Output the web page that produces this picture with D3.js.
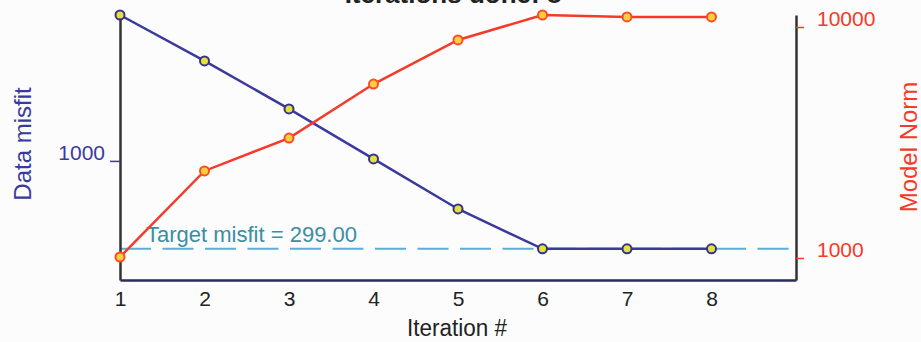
<!DOCTYPE html>
<html>
<head>
<meta charset="utf-8">
<script src="https://cdn.jsdelivr.net/npm/d3@7"></script>
<style>
  body { margin: 0; background: #fcfcfc; }
  svg { display: block; font-family: "Liberation Sans", Arial, sans-serif; }
</style>
</head>
<body>
<svg id="chart" width="921" height="342"></svg>
<script>
// values
const iterations = [1, 2, 3, 4, 5, 6, 7, 8];
const dataMisfit = [7410, 3945, 2042, 1028, 517, 299, 299, 299];
const modelNorm = [1010, 2381, 3304, 5664, 8790, 11270, 11050, 11050];
const targetMisfit = 299;
const xTicks = [1, 2, 3, 4, 5, 6, 7, 8];
const leftTicks = [1000];
const rightTicks = [1000, 10000];

const width = 921, height = 342;
const svg = d3.select("#chart");

const blue = "#3a3a9c", red = "#f53a28";

const x = d3.scaleLinear().domain([1, 9]).range([120, 796]);
const yL = d3.scaleLog().domain([195, d3.max(dataMisfit)]).range([280, 15]);
const yR = d3.scaleLog().domain([803, d3.max(modelNorm)]).range([280, 15]);

// title (cut off at the top in the original)
svg.append("text")
    .attr("x", 453).attr("y", 3)
    .attr("text-anchor", "middle")
    .attr("font-size", 26).attr("font-weight", "bold")
    .attr("fill", "#222")
    .text("Iterations done: 8");

// target misfit line
svg.append("line")
    .attr("x1", x(1)).attr("x2", x(9))
    .attr("y1", yL(targetMisfit)).attr("y2", yL(targetMisfit))
    .attr("stroke", "#5aaed8").attr("stroke-width", 2)
    .attr("stroke-dasharray", "31,11.5");

svg.append("text")
    .attr("x", 146).attr("y", yL(targetMisfit) - 7)
    .attr("font-size", 22).attr("fill", "#3a8ea4")
    .text("Target misfit = " + targetMisfit.toFixed(2));

// axes
const gx = svg.append("g")
    .attr("transform", "translate(0,280)")
    .call(d3.axisBottom(x).tickValues(xTicks).tickSize(0).tickPadding(11).tickFormat(d3.format("d")));
gx.select(".domain").attr("stroke", "#2b2b5e").attr("stroke-width", 2.5);
gx.selectAll("text").attr("font-size", 21).attr("fill", "#222");

const gl = svg.append("g")
    .attr("transform", "translate(120,0)")
    .call(d3.axisLeft(yL).tickValues(leftTicks).tickSize(10).tickSizeOuter(0).tickPadding(5).tickFormat(d3.format("d")));
gl.select(".domain").attr("stroke", "#333").attr("stroke-width", 2.5);
gl.selectAll(".tick line").attr("stroke", blue).attr("stroke-width", 1.5);
gl.selectAll("text").attr("font-size", 21).attr("fill", blue).attr("dy", "-0.05em");

const gr = svg.append("g")
    .attr("transform", "translate(796,0)")
    .call(d3.axisRight(yR).tickValues(rightTicks).tickSize(8).tickSizeOuter(0).tickPadding(13).tickFormat(d3.format("d")));
gr.select(".domain").attr("stroke", "#333").attr("stroke-width", 2.5);
gr.selectAll(".tick line").attr("stroke", red).attr("stroke-width", 1.5);
gr.selectAll("text").attr("font-size", 21).attr("fill", red).attr("dy", "-0.05em");

// axis titles
svg.append("text")
    .attr("transform", "translate(31,144) rotate(-90)")
    .attr("text-anchor", "middle")
    .attr("font-size", 24).attr("fill", blue)
    .text("Data misfit");

svg.append("text")
    .attr("transform", "translate(917,147) rotate(-90)")
    .attr("text-anchor", "middle")
    .attr("font-size", 24).attr("fill", red)
    .text("Model Norm");

svg.append("text")
    .attr("x", 457).attr("y", 336)
    .attr("text-anchor", "middle")
    .attr("font-size", 23).attr("fill", "#222")
    .attr("textLength", 100).attr("lengthAdjust", "spacingAndGlyphs")
    .text("Iteration #");

// series
const misfitLine = d3.line().x((d, i) => x(iterations[i])).y(d => yL(d));
const normLine = d3.line().x((d, i) => x(iterations[i])).y(d => yR(d));

svg.append("path").datum(dataMisfit)
    .attr("d", misfitLine)
    .attr("fill", "none").attr("stroke", blue).attr("stroke-width", 2.5);

svg.append("path").datum(modelNorm)
    .attr("d", normLine)
    .attr("fill", "none").attr("stroke", red).attr("stroke-width", 2.5);

svg.append("g").selectAll("circle")
    .data(dataMisfit)
    .enter().append("circle")
    .attr("cx", (d, i) => x(iterations[i]))
    .attr("cy", d => yL(d))
    .attr("r", 4.5)
    .attr("fill", "#e6e03a").attr("stroke", "#34348a").attr("stroke-width", 2);

svg.append("g").selectAll("circle")
    .data(modelNorm)
    .enter().append("circle")
    .attr("cx", (d, i) => x(iterations[i]))
    .attr("cy", d => yR(d))
    .attr("r", 4.5)
    .attr("fill", "#f6d23a").attr("stroke", "#ff4a2a").attr("stroke-width", 2);
</script>
</body>
</html>
